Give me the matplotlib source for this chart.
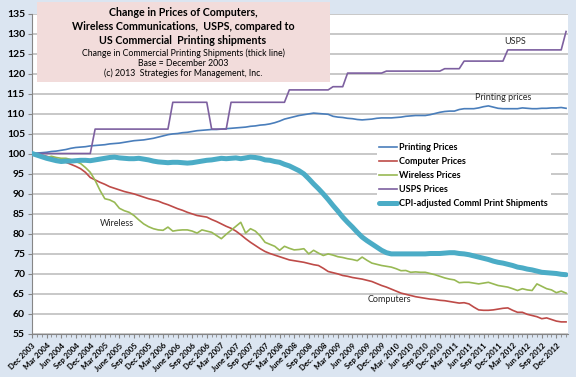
import matplotlib
matplotlib.use("Agg")
import matplotlib.pyplot as plt
from matplotlib.patches import Rectangle
import numpy as np

plt.rcParams['font.family'] = ['Lato', 'DejaVu Sans']

printing = [100.0, 100.1, 100.2, 100.3, 100.5, 100.6, 100.8, 101.0, 101.3, 101.5,
            101.6, 101.7, 101.9, 102.0, 102.1, 102.2, 102.4, 102.5, 102.6, 102.8,
            103.0, 103.2, 103.3, 103.4, 103.6, 103.8, 104.1, 104.4, 104.7, 104.9,
            105.0, 105.2, 105.3, 105.5, 105.7, 105.8, 105.9, 106.0, 106.0, 106.1,
            106.2, 106.3, 106.4, 106.5, 106.6, 106.8, 106.9, 107.1, 107.2, 107.4,
            107.7, 108.1, 108.6, 108.9, 109.2, 109.5, 109.7, 109.9, 110.1, 110.0,
            109.9, 109.8, 109.3, 109.1, 109.0, 108.8, 108.7, 108.5, 108.4, 108.5,
            108.6, 108.8, 108.9, 108.9, 108.9, 109.0, 109.1, 109.3, 109.4, 109.5,
            109.5, 109.5, 109.7, 110.0, 110.3, 110.5, 110.6, 110.6, 111.0, 111.2,
            111.2, 111.2, 111.4, 111.7, 111.9, 111.6, 111.3, 111.2, 111.2, 111.2,
            111.2, 111.4, 111.3, 111.2, 111.2, 111.3, 111.3, 111.4, 111.4, 111.5,
            111.3]

computer = [100.0, 99.8, 99.6, 99.3, 99.0, 98.6, 98.2, 97.8, 97.3, 96.8,
            96.2, 95.3, 94.0, 93.4, 92.8, 92.3, 91.7, 91.3, 90.9, 90.5,
            90.2, 89.9, 89.5, 89.1, 88.7, 88.4, 88.1, 87.6, 87.2, 86.7,
            86.2, 85.8, 85.3, 84.9, 84.5, 84.3, 84.1, 83.5, 83.0, 82.4,
            81.8, 81.3, 80.6, 79.7, 78.7, 77.8, 77.0, 76.2, 75.5, 75.0,
            74.6, 74.2, 73.8, 73.4, 73.2, 73.0, 72.8, 72.5, 72.2, 72.0,
            71.3, 70.5, 70.2, 69.9, 69.5, 69.3, 69.0, 68.8, 68.6, 68.3,
            68.0, 67.5, 67.0, 66.6, 66.1, 65.6, 65.1, 64.8, 64.5, 64.2,
            64.0, 63.8, 63.6, 63.5, 63.3, 63.2, 63.0, 62.8, 62.6, 62.7,
            62.4, 61.6, 60.9, 60.8, 60.8, 60.9, 61.1, 61.3, 61.4, 60.8,
            60.3, 60.3, 59.8, 59.5, 59.2, 58.7, 58.9, 58.5, 58.1, 57.9,
            57.9]

wireless = [100.0, 99.5, 99.2, 99.0, 99.3, 99.0, 98.8, 98.8, 98.5, 98.0,
            97.5, 96.5, 95.3, 93.3, 90.8, 88.7, 88.4, 87.8, 86.3, 85.7,
            85.3, 84.5, 83.4, 82.4, 81.7, 81.2, 80.9, 80.8, 81.6, 80.6,
            80.8, 80.9, 80.9, 80.6, 80.1, 80.9, 80.6, 80.3, 79.5, 78.7,
            79.8, 80.8, 81.8, 82.8, 80.1, 81.2, 80.6, 79.4, 77.8, 77.3,
            76.8, 75.8, 76.8, 76.3, 75.9, 76.0, 76.2, 74.9, 75.8, 75.1,
            74.5, 74.9, 74.6, 74.2, 74.0, 73.7, 73.5, 73.2, 74.1, 73.3,
            72.6, 72.3, 72.0, 71.8, 71.6, 71.2, 70.7, 70.75, 70.3, 70.4,
            70.3, 70.3, 70.0, 69.7, 69.3, 68.9, 68.6, 68.4, 67.7, 67.8,
            67.8, 67.6, 67.4, 67.6, 67.8, 67.4, 67.0, 66.8, 66.6, 66.2,
            65.75, 66.2, 65.9, 65.75, 67.4, 66.8, 66.2, 65.9, 65.2, 65.6,
            65.1]

usps = [100.0] * 13 + [106.1] * 16 + [112.8] * 8 + [106.1] * 4 + [112.8] * 12 \
    + [115.9] * 9 + [116.7] * 3 + [120.1] * 8 + [120.6] * 12 + [121.2] * 4 \
    + [123.1] * 9 + [125.9] * 12 + [130.5]

shipments = [100.0, 99.6, 99.2, 98.8, 98.5, 98.2, 98.0, 98.1, 98.1, 98.2,
             98.3, 98.3, 98.2, 98.4, 98.6, 98.8, 99.0, 99.1, 98.9, 98.8,
             98.7, 98.7, 98.8, 98.6, 98.4, 98.1, 97.9, 97.8, 97.7, 97.8,
             97.8, 97.7, 97.6, 97.7, 97.9, 98.1, 98.3, 98.4, 98.6, 98.8,
             98.7, 98.8, 98.9, 98.7, 98.9, 99.1, 99.0, 98.8, 98.4, 98.3,
             98.0, 97.8, 97.3, 96.9, 96.3, 95.7, 94.9, 93.7, 92.4, 91.2,
             89.9, 88.5, 87.0, 85.6, 84.1, 82.8, 81.6, 80.3, 79.1, 78.2,
             77.4, 76.6, 75.8, 75.2, 74.9, 74.9, 74.9, 74.9, 74.9, 74.9,
             74.9, 74.9, 75.0, 75.0, 75.0, 75.1, 75.2, 75.2, 75.0, 74.9,
             74.7, 74.4, 74.1, 73.8, 73.5, 73.1, 72.8, 72.6, 72.3, 72.0,
             71.6, 71.4, 71.1, 70.9, 70.6, 70.3, 70.2, 70.1, 70.0, 69.8,
             69.7]

tick_labels = ["Dec 2003", "Mar 2004", "Jun 2004", "Sep 2004", "Dec 2004", "Mar 2005",
               "June 2005", "Sep 2005", "Dec 2005", "Mar 2006", "June 2006", "Sep 2006",
               "Dec 2006", "Mar 2007", "June 2007", "Sep 2007", "Dec 2007", "Mar 2008",
               "June 2008", "Sep 2008", "Dec. 2008", "Mar 2009", "Jun 2009", "Sep 2009",
               "Dec. 2009", "Mar. 2010", "Jun 2010", "Sep 2010", "Dec 2010", "Mar 2011",
               "Jun 2011", "Sep 2011", "Dec 2011", "Mar 2012", "Jun 2012", "Sep 2012",
               "Dec 2012"]

series_names = ["Printing Prices", "Computer Prices", "Wireless Prices", "USPS Prices",
                "CPI-adjusted Comml Print Shipments"]

W, H = 576, 377
fig = plt.figure(figsize=(W / 100, H / 100), dpi=100)
fig.patch.set_facecolor('#dbe5f1')
ax = fig.add_axes([32 / W, 1 - 333.5 / H, (568 - 32) / W, (333.5 - 13.5) / H])
ax.set_facecolor('white')

x = np.arange(len(printing))
ax.plot(x, printing, color='#4a7ebb', lw=1.2, label=series_names[0], zorder=3)
ax.plot(x, computer, color='#be4b48', lw=1.2, label=series_names[1], zorder=3)
ax.plot(x, wireless, color='#98b954', lw=1.2, label=series_names[2], zorder=3)
ax.plot(x, usps, color='#7d60a0', lw=1.2, label=series_names[3], zorder=3)
ax.plot(x, shipments, color='#4bacc6', lw=3.6, label=series_names[4], zorder=3,
        solid_capstyle='round')

ax.set_xlim(0, 110.4)
ax.set_ylim(55, 135)
ax.set_yticks(np.arange(55, 136, 5))
ax.tick_params(axis='y', labelsize=7.5, length=3, color='#868686', pad=2)
for t in ax.get_yticklabels():
    t.set_fontweight('bold')
ax.yaxis.grid(True, color='#bfbfbf', lw=1.2)
ax.set_axisbelow(True)

ax.set_xticks(np.arange(0, 3 * len(tick_labels), 3))
ax.set_xticklabels(tick_labels, rotation=45, ha='right', rotation_mode='anchor',
                   fontsize=5.6, fontweight='bold')
ax.set_xticks(x, minor=True)
ax.tick_params(axis='x', which='major', length=3, color='#868686', pad=3)
ax.tick_params(axis='x', which='minor', length=2, color='#868686')

for s in ['top', 'right']:
    ax.spines[s].set_visible(False)
ax.spines['left'].set_color('#868686')
ax.spines['bottom'].set_color('#868686')

leg = ax.legend(loc='upper left', bbox_to_anchor=(372 / W, 1 - 136 / H),
                bbox_transform=fig.transFigure, frameon=True, fancybox=False,
                facecolor='white', edgecolor='none', framealpha=1,
                prop={'size': 6.5, 'weight': 'bold'}, handlelength=2.0,
                handletextpad=0.2, labelspacing=0.55, borderpad=0.3)
leg.set_zorder(5)

# annotations
fig.text(117 / W, 1 - 223 / H, "Wireless", fontsize=6.5, ha='center', va='center', color='#262626')
fig.text(389 / W, 1 - 300 / H, "Computers", fontsize=6.5, ha='center', va='center', color='#262626')
fig.text(515 / W, 1 - 42 / H, "USPS", fontsize=6.5, ha='center', va='center', color='#262626')
fig.text(503 / W, 1 - 98 / H, "Printing prices", fontsize=6.5, ha='center', va='center', color='#262626')

# title box
fig.add_artist(Rectangle((37 / W, 1 - 82 / H), (330 - 37) / W, 80 / H,
                         transform=fig.transFigure, facecolor='#f2dcdb',
                         edgecolor='none', zorder=4))
cx = 183 / W
fig.text(cx, 1 - 13 / H, "Change in Prices of Computers,", ha='center', va='center',
         fontsize=7.7, fontweight='bold', zorder=6)
fig.text(cx, 1 - 27 / H, "Wireless Communications,  USPS, compared to", ha='center',
         va='center', fontsize=7.7, fontweight='bold', zorder=6)
fig.text(cx, 1 - 40.5 / H, "US Commercial  Printing shipments", ha='center', va='center',
         fontsize=7.7, fontweight='bold', zorder=6)
fig.text(cx, 1 - 53 / H, "Change in Commercial Printing Shipments (thick line)",
         ha='center', va='center', fontsize=6.3, zorder=6)
fig.text(cx, 1 - 63 / H, "Base = December 2003", ha='center', va='center',
         fontsize=6.3, zorder=6)
fig.text(cx, 1 - 73.5 / H, "(c) 2013  Strategies for Management, Inc.", ha='center',
         va='center', fontsize=6.3, zorder=6)

fig.savefig('out.png', dpi=100, facecolor=fig.get_facecolor())
